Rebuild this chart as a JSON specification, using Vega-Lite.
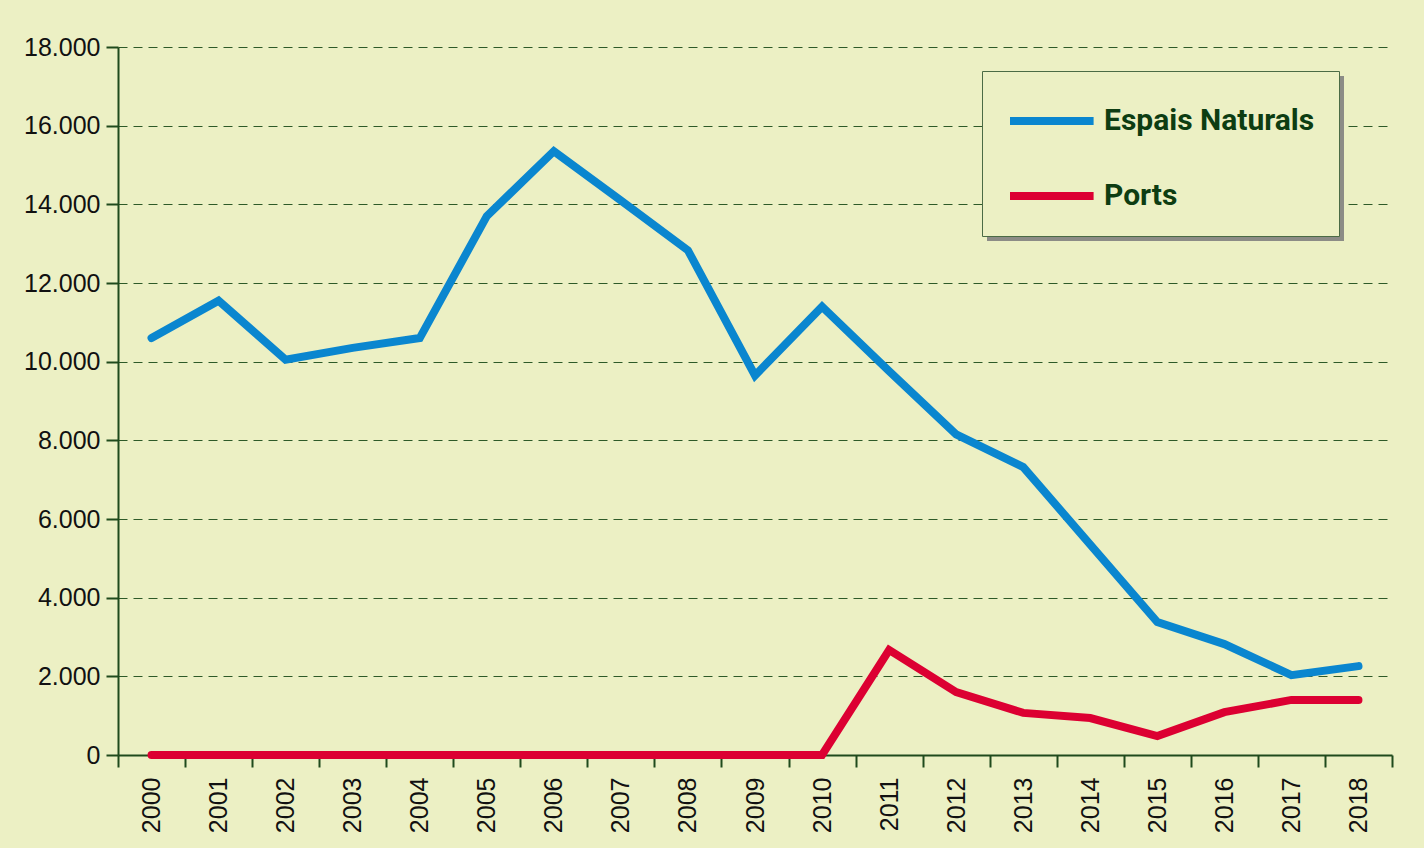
{
  "$schema": "https://vega.github.io/schema/vega-lite/v6.json",
  "width": 1274,
  "height": 708,
  "autosize": {"type": "none"},
  "padding": {"left": 118, "top": 47, "right": 32, "bottom": 93},
  "background": "#ecf0c4",
  "data": {
    "values": [
      {"year": "2000", "serie": "Espais Naturals", "value": 10600},
      {"year": "2001", "serie": "Espais Naturals", "value": 11550},
      {"year": "2002", "serie": "Espais Naturals", "value": 10050},
      {"year": "2003", "serie": "Espais Naturals", "value": 10350},
      {"year": "2004", "serie": "Espais Naturals", "value": 10600},
      {"year": "2005", "serie": "Espais Naturals", "value": 13700},
      {"year": "2006", "serie": "Espais Naturals", "value": 15350},
      {"year": "2007", "serie": "Espais Naturals", "value": 14100},
      {"year": "2008", "serie": "Espais Naturals", "value": 12830},
      {"year": "2009", "serie": "Espais Naturals", "value": 9650},
      {"year": "2010", "serie": "Espais Naturals", "value": 11400},
      {"year": "2011", "serie": "Espais Naturals", "value": 9760},
      {"year": "2012", "serie": "Espais Naturals", "value": 8150},
      {"year": "2013", "serie": "Espais Naturals", "value": 7320},
      {"year": "2014", "serie": "Espais Naturals", "value": 5350},
      {"year": "2015", "serie": "Espais Naturals", "value": 3380},
      {"year": "2016", "serie": "Espais Naturals", "value": 2820},
      {"year": "2017", "serie": "Espais Naturals", "value": 2030},
      {"year": "2018", "serie": "Espais Naturals", "value": 2260},
      {"year": "2000", "serie": "Ports", "value": 0},
      {"year": "2001", "serie": "Ports", "value": 0},
      {"year": "2002", "serie": "Ports", "value": 0},
      {"year": "2003", "serie": "Ports", "value": 0},
      {"year": "2004", "serie": "Ports", "value": 0},
      {"year": "2005", "serie": "Ports", "value": 0},
      {"year": "2006", "serie": "Ports", "value": 0},
      {"year": "2007", "serie": "Ports", "value": 0},
      {"year": "2008", "serie": "Ports", "value": 0},
      {"year": "2009", "serie": "Ports", "value": 0},
      {"year": "2010", "serie": "Ports", "value": 0},
      {"year": "2011", "serie": "Ports", "value": 2670},
      {"year": "2012", "serie": "Ports", "value": 1600},
      {"year": "2013", "serie": "Ports", "value": 1070},
      {"year": "2014", "serie": "Ports", "value": 940},
      {"year": "2015", "serie": "Ports", "value": 480},
      {"year": "2016", "serie": "Ports", "value": 1090},
      {"year": "2017", "serie": "Ports", "value": 1400},
      {"year": "2018", "serie": "Ports", "value": 1400}
    ]
  },
  "mark": {"type": "line", "strokeWidth": 8, "strokeCap": "round", "strokeJoin": "miter"},
  "encoding": {
    "x": {
      "field": "year",
      "type": "ordinal",
      "scale": {"type": "band", "paddingInner": 0, "paddingOuter": 0},
      "axis": {
        "title": null,
        "tickBand": "extent",
        "labelAngle": -90,
        "labelFont": "Liberation Sans",
        "labelFontSize": 25,
        "labelColor": "#111111",
        "labelPadding": 10,
        "tickSize": 12,
        "tickWidth": 2,
        "tickColor": "#1f4a1c",
        "domainColor": "#1f4a1c",
        "domainWidth": 2,
        "grid": false
      }
    },
    "y": {
      "field": "value",
      "type": "quantitative",
      "scale": {"domain": [0, 18000]},
      "axis": {
        "title": null,
        "values": [0, 2000, 4000, 6000, 8000, 10000, 12000, 14000, 16000, 18000],
        "labelExpr": "replace(format(datum.value, ','), ',', '.')",
        "labelFont": "Liberation Sans",
        "labelFontSize": 25,
        "labelColor": "#111111",
        "labelPadding": 6,
        "tickSize": 12,
        "tickWidth": 2,
        "tickColor": "#1f4a1c",
        "domainColor": "#1f4a1c",
        "domainWidth": 2,
        "grid": true,
        "gridColor": "#2e5a28",
        "gridDash": [9, 6],
        "gridWidth": 1.2
      }
    },
    "color": {
      "field": "serie",
      "type": "nominal",
      "scale": {"domain": ["Espais Naturals", "Ports"], "range": ["#0a86cf", "#dc0032"]},
      "legend": {
        "title": null,
        "orient": "none",
        "legendX": 864,
        "legendY": 24,
        "zindex": 2,
        "fillColor": "#ecf0c4",
        "strokeColor": "#4b6b45",
        "padding": 24,
        "symbolType": "M-1,0L2.8,0",
        "symbolSize": 1936,
        "symbolStrokeWidth": 8,
        "labelFont": "Roboto",
        "labelFontSize": 30,
        "labelFontWeight": "bold",
        "labelColor": "#0d3d12",
        "labelOffset": 46,
        "labelLimit": 400,
        "rowPadding": 33
      }
    },
    "opacity": {
      "field": "serie",
      "type": "ordinal",
      "scale": {"range": [1, 1]},
      "legend": {
        "title": null,
        "orient": "none",
        "legendX": 869,
        "legendY": 29,
        "zindex": 1,
        "fillColor": "#8c8c86",
        "padding": 24,
        "symbolType": "M-1,0L2.8,0",
        "symbolSize": 1936,
        "symbolStrokeWidth": 8,
        "symbolStrokeColor": "transparent",
        "symbolFillColor": "transparent",
        "labelFont": "Roboto",
        "labelFontSize": 30,
        "labelFontWeight": "bold",
        "labelColor": "transparent",
        "labelOffset": 46,
        "labelLimit": 400,
        "rowPadding": 33
      }
    }
  },
  "config": {
    "view": {"stroke": null}
  }
}
